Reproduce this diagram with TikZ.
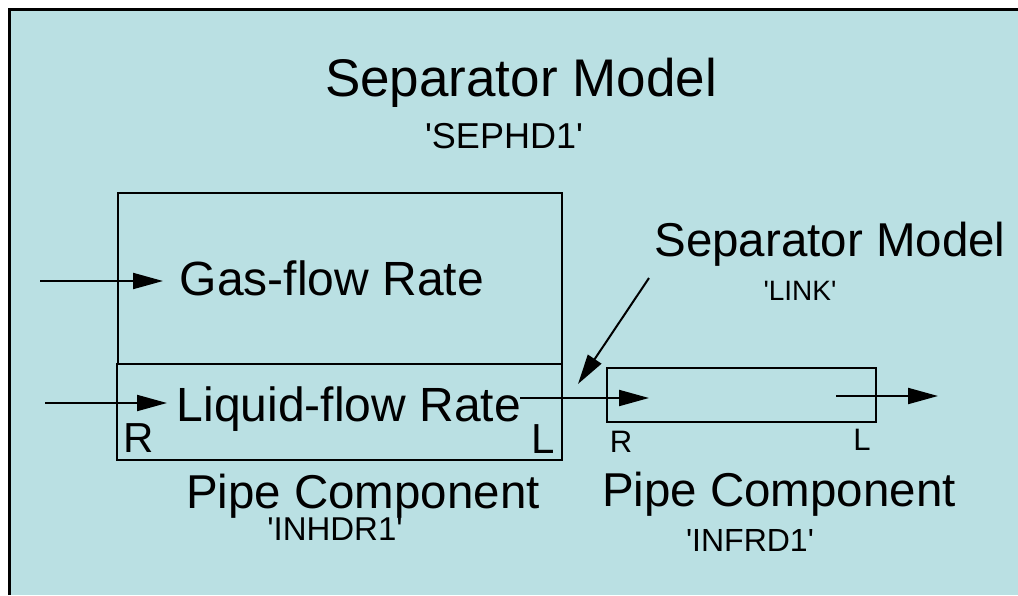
\documentclass[tikz,border=0pt]{standalone}
\usepackage{fontspec}
\setmainfont{Liberation Sans}
\usetikzlibrary{arrows.meta}
\definecolor{bgblue}{RGB}{186,224,227}
\newcommand{\sq}{\textquotesingle}
\tikzset{
  boxnode/.style={draw=black, line width=2pt, inner sep=0pt, fill=none},
  lbl/.style={inner sep=0pt, anchor=base, text=black},
  flow/.style={line width=2pt, -{Triangle[length=30pt,width=16pt]}},
  plain/.style={line width=2pt}
}
\begin{document}
\begin{tikzpicture}[x=1pt,y=-1pt]
\useasboundingbox (0,0) rectangle (1018,595);
% background and frame
\fill[bgblue] (9.5,9) rectangle (1018,595);
\draw[line width=3pt] (9.5,595) -- (9.5,9) -- (1018,9);
% boxes
\node[boxnode, minimum width=444pt, minimum height=171pt] (gasbox) at (340,278.5) {};
\node[boxnode, minimum width=445pt, minimum height=96pt] (liqbox) at (339.5,412) {};
\node[boxnode, minimum width=269pt, minimum height=54pt] (smallbox) at (741.5,395) {};
% texts
\node[lbl, font=\fontsize{53}{60}\selectfont] (title) at (521,96) {Separator Model};
\node[lbl, font=\fontsize{36}{42}\selectfont] (sephd) at (504,148) {\sq SEPHD1\sq};
\node[lbl, font=\fontsize{47.5}{54}\selectfont] (title2) at (830,256) {Separator Model};
\node[lbl, font=\fontsize{28}{32}\selectfont] (link) at (800,300) {\sq LINK\sq};
\node[lbl, font=\fontsize{48}{54}\selectfont] (gastext) at (332,295) {Gas-flow Rate};
\node[lbl, font=\fontsize{48}{54}\selectfont] (liqtext) at (349,421) {Liquid-flow Rate};
\node[lbl, font=\fontsize{47.5}{54}\selectfont] (pipe1) at (363,508) {Pipe Component};
\node[lbl, font=\fontsize{33}{40}\selectfont] (inhdr) at (335,540) {\sq INHDR1\sq};
\node[lbl, font=\fontsize{47.5}{54}\selectfont] (pipe2) at (779,506) {Pipe Component};
\node[lbl, font=\fontsize{32}{38}\selectfont] (infrd) at (750,551) {\sq INFRD1\sq};
\node[lbl, font=\fontsize{42}{48}\selectfont] (rbig) at (138.5,452) {R};
\node[lbl, font=\fontsize{42}{48}\selectfont] (lbig) at (543,453) {L};
\node[lbl, font=\fontsize{31}{36}\selectfont] (rsmall) at (621,452) {R};
\node[lbl, font=\fontsize{31}{36}\selectfont] (lsmall) at (862,450) {L};
% connector end points
\coordinate (gasin) at (40,281);
\coordinate (gastip) at (163,281);
\coordinate (liqin) at (45,403);
\coordinate (liqtip) at (167,403);
\coordinate (linkstart) at (520,398);
\coordinate (linktip) at (649,398);
\coordinate (outstart) at (836,396);
\coordinate (outtip) at (938,396);
\coordinate (diagstart) at (649,278);
\coordinate (diagtip) at (578,384);
% connectors
\draw[flow] (gasin) -- (gastip);
\draw[flow] (liqin) -- (liqtip);
\draw[flow] (linkstart) -- (linktip);
\draw[flow] (outstart) -- (outtip);
\draw[flow] (diagstart) -- (diagtip);
\end{tikzpicture}
\end{document}
